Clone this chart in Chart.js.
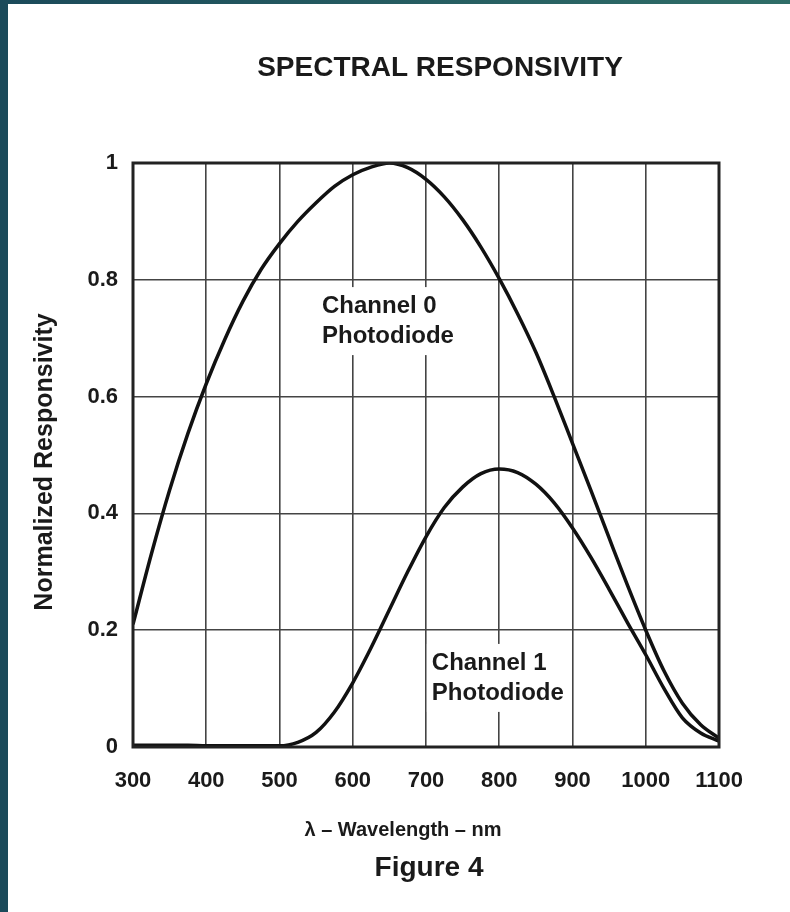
<!DOCTYPE html>
<html>
<head>
<meta charset="utf-8">
<script src="https://cdn.jsdelivr.net/npm/chart.js@4.4.0/dist/chart.umd.min.js"></script>
<style>
    html, body { margin: 0; padding: 0; }
    body { width: 790px; height: 912px; background: #1b4a5a; position: relative; overflow: hidden; }
    #band { position: absolute; left: 0; top: 0; width: 790px; height: 4px; background: linear-gradient(to right, #1b4a5a, #2f6d67); }
    #sheet { position: absolute; left: 8px; top: 4px; width: 782px; height: 908px; background: #fff; }
</style>
</head>
<body>
<div id="band"></div>
<div id="sheet"><canvas id="chartSpectral" width="782" height="908"></canvas></div>
<script>
// wavelengths (nm) where the curves were read, every 25 nm
var wavelengths = [300, 325, 350, 375, 400, 425, 450, 475, 500, 525, 550, 575, 600, 625, 650, 675, 700,
    725, 750, 775, 800, 825, 850, 875, 900, 925, 950, 975, 1000, 1025, 1050, 1075, 1100];
// channel 0 photodiode, normalized responsivity
var channel0 = [0.21, 0.33, 0.44, 0.537, 0.622, 0.697, 0.763, 0.818, 0.862, 0.9, 0.932, 0.96, 0.98, 0.993, 1.0, 0.992, 0.972,
    0.942, 0.903, 0.856, 0.802, 0.742, 0.676, 0.6, 0.52, 0.44, 0.358, 0.277, 0.2, 0.13, 0.075, 0.038, 0.015];
// channel 1 photodiode, normalized responsivity
var channel1 = [0.003, 0.003, 0.003, 0.003, 0.002, 0.002, 0.002, 0.002, 0.002, 0.008, 0.025, 0.06, 0.11, 0.17, 0.235, 0.3, 0.36,
    0.41, 0.445, 0.468, 0.476, 0.47, 0.45, 0.418, 0.375, 0.325, 0.27, 0.213, 0.158, 0.1, 0.05, 0.024, 0.01];
var xTicks = [300, 400, 500, 600, 700, 800, 900, 1000, 1100];
var yTicks = [0, 0.2, 0.4, 0.6, 0.8, 1];

var FONT = "'Liberation Sans', Arial, sans-serif";

function toPoints(values) {
    var pts = [];
    for (var i = 0; i < wavelengths.length; i++) {
        pts.push({ x: wavelengths[i], y: values[i] });
    }
    return pts;
}

// texts, frame and labels drawn around the plot
var decorations = {
    id: 'decorations',
    beforeDatasetsDraw: function (chart) {
        var ctx = chart.ctx;
        var x = chart.scales.x, y = chart.scales.y;
        // label boxes hide the grid behind them
        var labels = [
            { wl: 558, v: 0.743, lines: ['Channel 0', 'Photodiode'] },
            { wl: 708, v: 0.132, lines: ['Channel 1', 'Photodiode'] }
        ];
        ctx.save();
        ctx.font = 'bold 24px ' + FONT;
        ctx.textBaseline = 'alphabetic';
        ctx.textAlign = 'left';
        labels.forEach(function (l) {
            var px = x.getPixelForValue(l.wl), py = y.getPixelForValue(l.v);
            ctx.fillStyle = '#fff';
            ctx.fillRect(px - 5, py - 26, 140, 68);
            ctx.fillStyle = '#1a1a1a';
            ctx.fillText(l.lines[0], px, py);
            ctx.fillText(l.lines[1], px, py + 30);
        });
        ctx.restore();
    },
    afterDraw: function (chart) {
        var ctx = chart.ctx;
        var a = chart.chartArea;
        ctx.save();
        // frame
        ctx.strokeStyle = '#222';
        ctx.lineWidth = 3;
        ctx.strokeRect(a.left, a.top, a.right - a.left, a.bottom - a.top);
        ctx.fillStyle = '#1a1a1a';
        ctx.textAlign = 'center';
        ctx.textBaseline = 'middle';
        ctx.font = 'bold 28px ' + FONT;
        ctx.fillText('SPECTRAL RESPONSIVITY', 432, 64);
        ctx.font = 'bold 20px ' + FONT;
        ctx.fillText('\u03bb \u2013 Wavelength \u2013 nm', 395, 826);
        ctx.font = 'bold 28px ' + FONT;
        ctx.fillText('Figure 4', 421, 864);
        // y axis title
        ctx.translate(37, 458);
        ctx.rotate(-Math.PI / 2);
        ctx.font = 'bold 25px ' + FONT;
        ctx.fillText('Normalized Responsivity', 0, 0);
        ctx.restore();
    }
};

var ctx = document.getElementById('chartSpectral').getContext('2d');
var chart = new Chart(ctx, {
    type: 'line',
    data: {
        datasets: [{
            label: 'Channel 0 Photodiode',
            data: toPoints(channel0),
            borderColor: '#111',
            borderWidth: 3.5,
            pointRadius: 0,
            fill: false,
            cubicInterpolationMode: 'monotone'
        }, {
            label: 'Channel 1 Photodiode',
            data: toPoints(channel1),
            borderColor: '#111',
            borderWidth: 3.5,
            pointRadius: 0,
            fill: false,
            cubicInterpolationMode: 'monotone'
        }]
    },
    options: {
        responsive: false,
        animation: false,
        devicePixelRatio: 1,
        layout: { padding: { top: 159, right: 71, bottom: 125, left: 0 } },
        plugins: { legend: { display: false }, tooltip: { enabled: false }, title: { display: false } },
        scales: {
            x: {
                type: 'linear',
                min: 300,
                max: 1100,
                afterBuildTicks: function (scale) {
                    scale.ticks = xTicks.map(function (v) { return { value: v }; });
                },
                afterFit: function (scale) { scale.height = 40; },
                grid: { color: '#444', lineWidth: 1.6, drawTicks: false },
                border: { display: false },
                ticks: {
                    color: '#1a1a1a',
                    padding: 21,
                    maxRotation: 0,
                    font: { family: FONT, size: 22, weight: 'bold' },
                    callback: function (v) { return String(v); }
                }
            },
            y: {
                min: 0,
                max: 1,
                afterBuildTicks: function (scale) {
                    scale.ticks = yTicks.map(function (v) { return { value: v }; });
                },
                afterFit: function (scale) { scale.width = 125; },
                grid: { color: '#444', lineWidth: 1.6, drawTicks: false },
                border: { display: false },
                ticks: {
                    color: '#1a1a1a',
                    padding: 15,
                    font: { family: FONT, size: 22, weight: 'bold' },
                    callback: function (v) { return String(v); }
                }
            }
        }
    },
    plugins: [decorations]
});
</script>
</body>
</html>
